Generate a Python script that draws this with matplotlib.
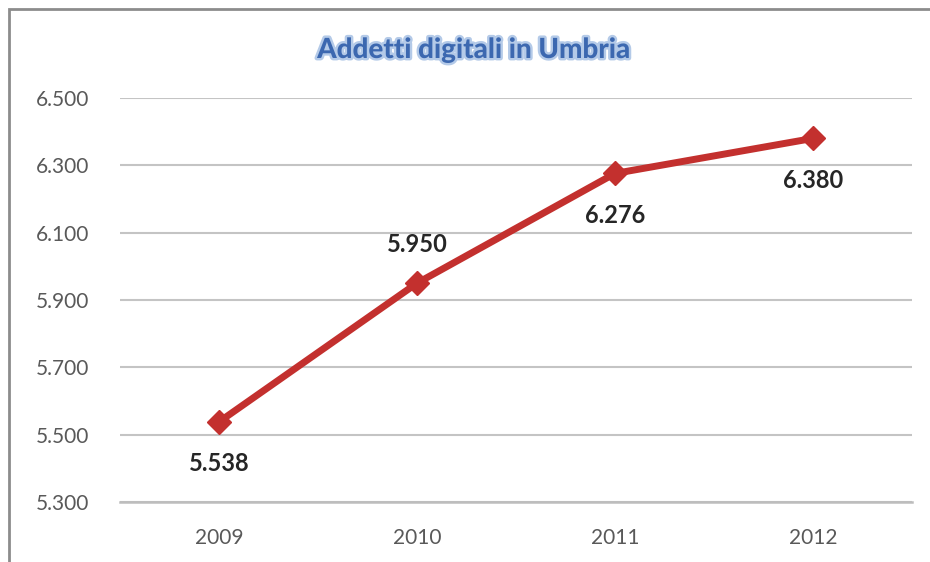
import matplotlib.pyplot as plt
import matplotlib.patheffects as pe
from matplotlib.patches import Rectangle
from matplotlib.ticker import FuncFormatter

years = ["2009", "2010", "2011", "2012"]
addetti = [5538, 5950, 6276, 6380]
label_above = [False, True, False, False]
y_ticks = [5300, 5500, 5700, 5900, 6100, 6300, 6500]

plt.rcParams["font.family"] = ["Lato", "DejaVu Sans"]


def it_fmt(v, _pos=None):
    return f"{v:,.0f}".replace(",", ".")


fig = plt.figure(figsize=(9.3, 5.62), dpi=100)
fig.patch.set_facecolor("white")

# outer chart frame (left and top edges visible)
fig.add_artist(Rectangle((9 / 930, -0.05), 1.2, 1 - 9 / 562 + 0.05,
                         transform=fig.transFigure, fill=False,
                         edgecolor="#8c8c8c", linewidth=2.0))

ax = fig.add_axes([120 / 930, 1 - 502 / 562, 792 / 930, 404 / 562])
x = list(range(len(years)))

ax.plot(x, addetti, color="#C3302E", linewidth=5, marker="D",
        markersize=12, markerfacecolor="#C3302E", markeredgecolor="#C3302E",
        solid_joinstyle="round", zorder=3)

for xi, v, up in zip(x, addetti, label_above):
    off = 28 if up else -30
    ax.annotate(it_fmt(v), (xi, v), xytext=(0, off), textcoords="offset points",
                ha="center", va="center", fontsize=17, fontweight="bold",
                color="#262626")

ax.set_xlim(-0.5, len(years) - 0.5)
ax.set_ylim(y_ticks[0], y_ticks[-1])
ax.set_yticks(y_ticks)
ax.yaxis.set_major_formatter(FuncFormatter(it_fmt))
ax.set_xticks(x)
ax.set_xticklabels(years)

ax.grid(axis="y", color="#C4C4C4", linewidth=1.5)
ax.set_axisbelow(True)
for s in ("left", "right", "top"):
    ax.spines[s].set_visible(False)
ax.spines["bottom"].set_color("#BDBDBD")
ax.spines["bottom"].set_linewidth(1.8)
ax.tick_params(axis="both", length=0, labelsize=15, labelcolor="#595959")
ax.tick_params(axis="y", pad=22)
ax.tick_params(axis="x", pad=19)

fig.text(474 / 930, 1 - 50 / 562, "Addetti digitali in Umbria",
         ha="center", va="center", fontsize=20, fontweight="black",
         color="#3C68B0",
         path_effects=[pe.withStroke(linewidth=3.5, foreground="#B4CAE8")])

fig.savefig("out.png", dpi=100, facecolor="white")
